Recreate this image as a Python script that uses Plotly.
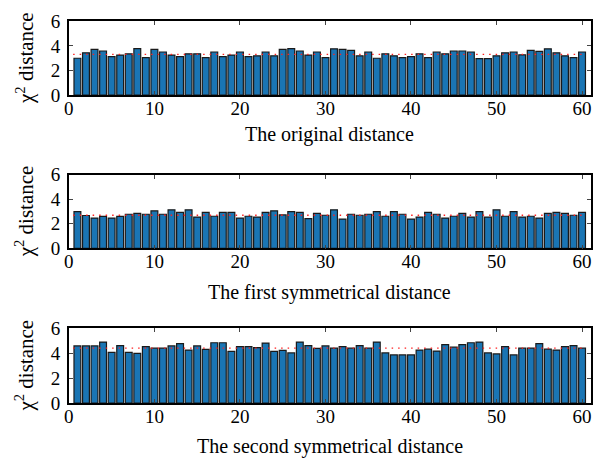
import plotly.graph_objects as go

x_idx = list(range(1, 61))

original = [3.00, 3.44, 3.72, 3.59, 3.13, 3.26, 3.36, 3.79, 3.05, 3.72,
            3.51, 3.26, 3.13, 3.36, 3.36, 3.05, 3.51, 3.13, 3.26, 3.51,
            3.13, 3.20, 3.51, 3.20, 3.72, 3.79, 3.59, 3.26, 3.51, 3.05,
            3.77, 3.72, 3.64, 3.20, 3.51, 3.00, 3.36, 3.20, 3.05, 3.13,
            3.36, 3.05, 3.51, 3.36, 3.59, 3.59, 3.51, 2.97, 2.97, 3.20,
            3.44, 3.51, 3.28, 3.64, 3.56, 3.77, 3.44, 3.20, 3.05, 3.51]

first_sym = [2.99, 2.68, 2.47, 2.60, 2.47, 2.60, 2.78, 2.86, 2.78, 3.06,
             2.78, 3.14, 2.94, 3.14, 2.55, 2.94, 2.62, 2.94, 2.94, 2.47,
             2.62, 2.55, 2.94, 3.06, 2.73, 2.99, 2.94, 2.42, 2.86, 2.70,
             3.14, 2.39, 2.78, 2.70, 2.78, 2.99, 2.62, 2.99, 2.78, 2.39,
             2.55, 2.94, 2.78, 2.47, 2.62, 2.86, 2.55, 2.99, 2.55, 3.14,
             2.62, 2.99, 2.55, 2.62, 2.47, 2.86, 2.94, 2.86, 2.70, 2.94]

second_sym = [4.59, 4.59, 4.59, 4.90, 4.08, 4.62, 4.08, 4.00, 4.54, 4.41,
              4.41, 4.59, 4.77, 4.26, 4.59, 4.31, 4.85, 4.85, 4.15, 4.54,
              4.54, 4.46, 4.82, 4.15, 4.23, 4.03, 4.90, 4.62, 4.39, 4.59,
              4.41, 4.54, 4.41, 4.62, 4.41, 4.90, 4.03, 3.87, 3.87, 3.87,
              4.26, 4.33, 4.18, 4.69, 4.49, 4.69, 4.85, 4.90, 4.03, 3.95,
              4.54, 3.87, 4.41, 4.41, 4.77, 4.33, 4.26, 4.54, 4.62, 4.41]

mean_levels = [3.31, 2.70, 4.41]
x_titles = ["The original distance", "The first symmetrical distance",
            "The second symmetrical distance"]
y_title = "χ<sup>2</sup> distance"
y_ticks = [0, 2, 4, 6]
x_ticks = [0, 10, 20, 30, 40, 50, 60]

W, H = 603, 470
FONT = "Liberation Serif"
BAR = "#1a75b4"

# panel pixel boxes (top, bottom) and title centre offsets
panels_px = [(12, 89), (172.5, 249.5), (333.3, 411.5)]
title_y_px = [130, 296, 457]
x_px = (64.5, 591.5)

series = [original, first_sym, second_sym]
fig = go.Figure()
layout = dict(width=W, height=H, margin=dict(l=0, r=0, t=0, b=0),
              paper_bgcolor="white", plot_bgcolor="white", showlegend=False,
              bargap=0.2, font=dict(family=FONT, size=18, color="black"))
annotations = []
for i, (vals, mlev) in enumerate(zip(series, mean_levels)):
    xa = "x" if i == 0 else f"x{i+1}"
    ya = "y" if i == 0 else f"y{i+1}"
    fig.add_trace(go.Bar(x=x_idx, y=vals, xaxis=xa, yaxis=ya, width=0.8,
                         marker=dict(color=BAR, line=dict(color="#1a1a1a", width=1.2))))
    fig.add_trace(go.Scatter(x=[0.5, 60.5], y=[mlev, mlev], xaxis=xa, yaxis=ya,
                             mode="lines",
                             line=dict(color="#ff2020", width=1.3, dash="1.5px,5px")))
    top, bot = panels_px[i]
    ydom = [1 - bot / H, 1 - top / H]
    xdom = [x_px[0] / W, x_px[1] / W]
    xkey = "xaxis" if i == 0 else f"xaxis{i+1}"
    ykey = "yaxis" if i == 0 else f"yaxis{i+1}"
    layout[xkey] = dict(domain=xdom, range=[0, 61], tickvals=x_ticks,
                        ticks="inside", ticklen=4, tickwidth=1, mirror="allticks",
                        showline=True, linecolor="black", linewidth=1.5,
                        showgrid=False, zeroline=False, anchor=ya,
                        tickfont=dict(family=FONT, size=19), ticklabelstandoff=-5)
    layout[ykey] = dict(domain=ydom, range=[0, 6], tickvals=y_ticks,
                        ticks="inside", ticklen=4, tickwidth=1, mirror="allticks",
                        showline=True, linecolor="black", linewidth=1.5,
                        showgrid=False, zeroline=False, anchor=xa,
                        tickfont=dict(family=FONT, size=19), ticklabelstandoff=3)
    annotations.append(dict(text=x_titles[i], xref="paper", yref="paper",
                            x=(x_px[0] + x_px[1]) / 2 / W, y=1 - title_y_px[i] / H,
                            xanchor="center", yanchor="middle", showarrow=False,
                            font=dict(family=FONT, size=20)))
    annotations.append(dict(text=y_title, xref="paper", yref="paper",
                            x=20 / W, y=1 - (top + bot) / 2 / H, textangle=-90,
                            xanchor="center", yanchor="middle", showarrow=False,
                            font=dict(family=FONT, size=21)))
layout["annotations"] = annotations
fig.update_layout(**layout)
fig.write_html("out.html", config={"displayModeBar": False},
               post_script="document.body.style.margin='0';document.body.style.overflow='hidden';")
